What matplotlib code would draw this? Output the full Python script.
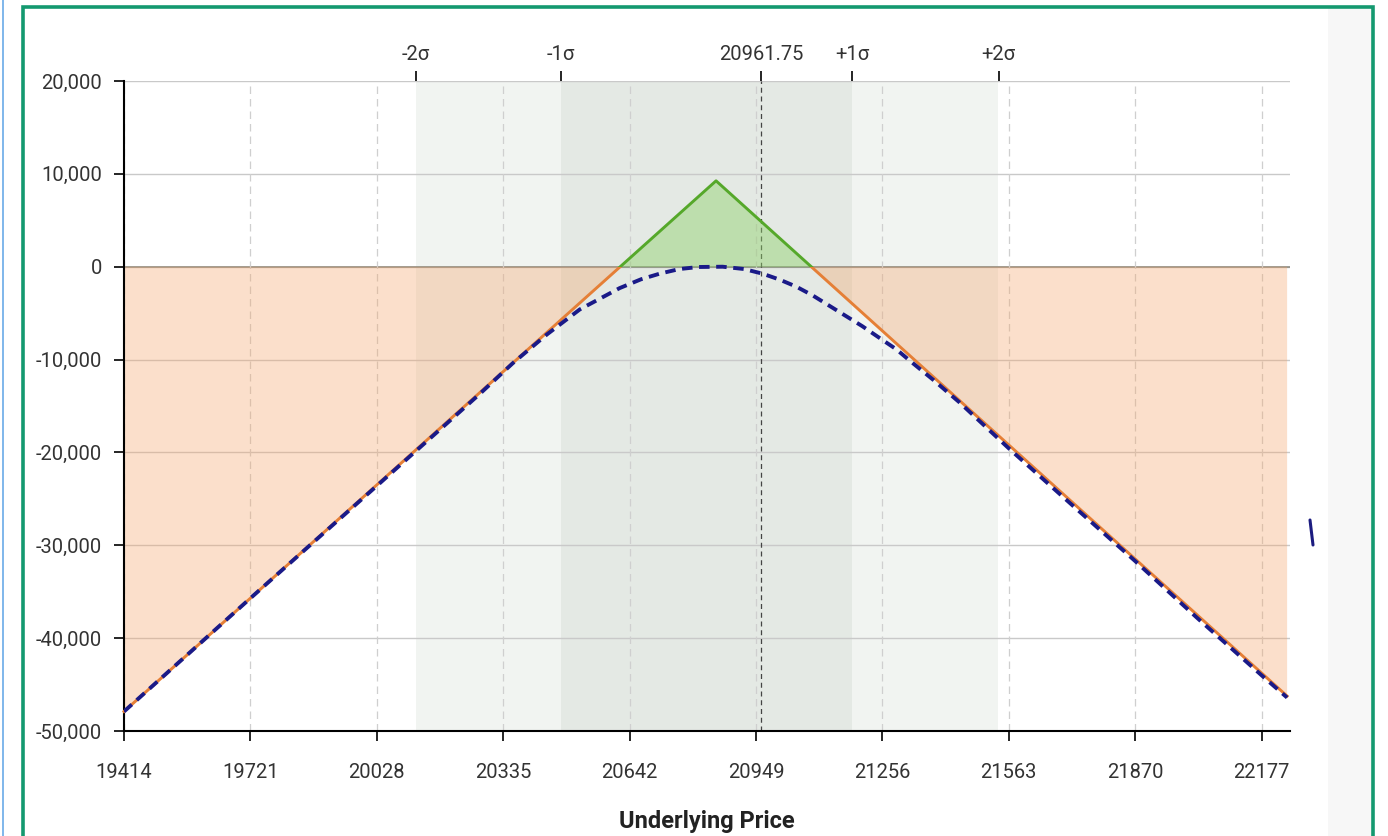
import numpy as np
import matplotlib.pyplot as plt
from matplotlib.lines import Line2D
from matplotlib.patches import Rectangle

# expiration P&L (piecewise linear, vertices)
exp_price = np.array([19414, 20852, 22239])
exp_pnl = np.array([-47900, 9250, -46240])

# T+0 curve (blue dashed), read point by point
t0_price = np.array([19414, 19721, 20028, 20200, 20278, 20358, 20441, 20521, 20580,
                     20618, 20670, 20715, 20763, 20810, 20868, 20920, 20965, 21007,
                     21047, 21087, 21127, 21167, 21207, 21250, 21290, 21322, 21380,
                     21443, 21564, 21700, 21870, 22020, 22177, 22239])
t0_pnl = np.array([-47900, -35700, -23600, -16800, -13700, -10400, -7300, -4600, -3200,
                   -2300, -1350, -750, -250, -30, 0, -250, -750, -1400,
                   -2150, -3100, -4200, -5300, -6400, -7700, -8900, -10100, -12200,
                   -14600, -19600, -25000, -31700, -37800, -44000, -46400])

# x ticks / sigma markers
xticks = [19414, 19721, 20028, 20335, 20642, 20949, 21256, 21563, 21870, 22177]
yticks = [20000, 10000, 0, -10000, -20000, -30000, -40000, -50000]
sigma_pos = [20123, 20475, 20961.75, 21183, 21538]
sigma_lbl = ['-2\u03c3', '-1\u03c3', '20961.75', '+1\u03c3', '+2\u03c3']

W, H = 1388, 836
plt.rcParams['font.family'] = ['Roboto', 'DejaVu Sans']

fig = plt.figure(figsize=(W / 100, H / 100), dpi=100)

def fx(px):
    return px / W

def fy(py):
    return 1 - py / H

# page decoration: blue edge, gray side panel, green frame
fig.add_artist(Line2D([fx(3), fx(3)], [0, 1], color='#6aaae8', lw=1.2))
fig.add_artist(Rectangle((fx(1328), 0), fx(1372) - fx(1328), fy(8), color='#f7f7f7', lw=0))
fig.add_artist(Rectangle((fx(23), fy(900)), fx(1373) - fx(23), fy(7) - fy(900),
                         fill=False, edgecolor='#14996f', lw=2.6))
fig.add_artist(Line2D([fx(1310), fx(1313)], [fy(520), fy(545)], color='#1c1c80', lw=2.2,
                      solid_capstyle='round'))

ax = fig.add_axes([fx(124), fy(731), fx(1290) - fx(124), fy(81) - fy(731)])
ax.set_xlim(19414, 22246)
ax.set_ylim(-50000, 20000)

# sigma bands
ax.axvspan(sigma_pos[0], sigma_pos[4], color='#f1f4f1', lw=0, zorder=0)
ax.axvspan(sigma_pos[1], sigma_pos[3], color='#e4e9e4', lw=0, zorder=0)

# grid
for y in yticks:
    ax.axhline(y, color='#c9c9c9', lw=1, zorder=1)
ax.axhline(0, color='#8c8c84', lw=1.2, zorder=1)
for x in xticks:
    ax.axvline(x, color='#cfcfcf', lw=0.9, ls=(0, (6, 4)), zorder=1)
ax.axvline(sigma_pos[2], color='#444444', lw=0.9, ls=(0, (4, 3)), zorder=1)

# fills
ax.fill_between(exp_price, exp_pnl, 0, where=exp_pnl < 0, interpolate=True,
                color='#f5a66b', alpha=0.35, lw=0, zorder=2)
ax.fill_between(exp_price, exp_pnl, 0, where=exp_pnl > 0, interpolate=True,
                color='#8fd16a', alpha=0.45, lw=0, zorder=2)

# expiration line: orange below zero, green above (clipped at the zero line)
lo, = ax.plot(exp_price, exp_pnl, color='#e57f36', lw=2.1, zorder=3)
hi, = ax.plot(exp_price, exp_pnl, color='#55a82a', lw=2.1, zorder=3)
clip_lo = Rectangle((19000, -60000), 4000, 60000, transform=ax.transData)
clip_hi = Rectangle((19000, 0), 4000, 30000, transform=ax.transData)
lo.set_clip_path(clip_lo)
hi.set_clip_path(clip_hi)

ax.plot(t0_price, t0_pnl, color='#1a1a88', lw=2.8, dashes=(2.7, 1.7), zorder=4)

ax.set_xticks(xticks)
ax.set_xticklabels([str(v) for v in xticks])
ax.set_yticks(yticks)
ax.set_yticklabels(['{:,}'.format(v) for v in yticks])
ax.tick_params(axis='both', direction='out', length=7, width=1.2, color='black',
               labelsize=14.5, labelcolor='#333333', pad=9)
ax.tick_params(axis='x', pad=16)
for s in ['top', 'right']:
    ax.spines[s].set_visible(False)
ax.spines['left'].set_linewidth(1.5)
ax.spines['bottom'].set_linewidth(1.5)
ax.set_xlabel('Underlying Price', fontsize=17, fontweight='bold', color='#222222', labelpad=20)

top = ax.twiny()
top.set_xlim(ax.get_xlim())
top.set_xticks(sigma_pos)
top.set_xticklabels(sigma_lbl)
top.tick_params(axis='x', direction='out', length=7, width=1.2, color='black',
                labelsize=14.5, labelcolor='#333333', pad=5)
for s in top.spines.values():
    s.set_visible(False)

fig.savefig('out.png', dpi=100)
